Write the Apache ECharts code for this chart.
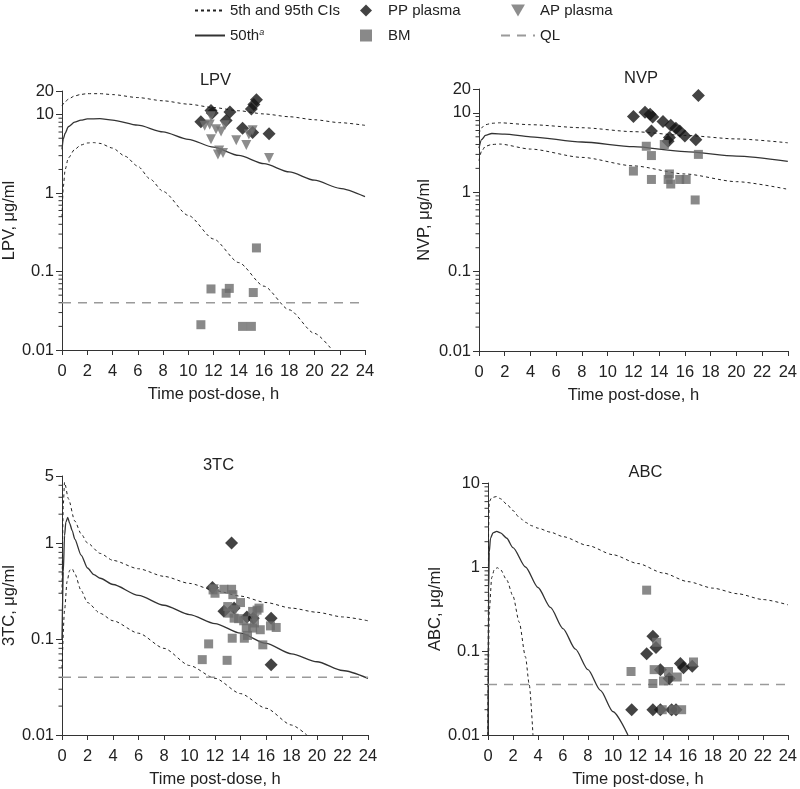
<!DOCTYPE html>
<html><head><meta charset="utf-8">
<script src="https://cdn.jsdelivr.net/npm/echarts@6/dist/echarts.min.js"></script>
<style>html,body{margin:0;padding:0;background:#fff}#c{width:800px;height:789px}</style>
</head><body><div id="c"></div>
<script>
// ---------- DATA ----------
const panelNames = ['LPV', 'NVP', '3TC', 'ABC'];
const yMax = [20, 20, 5, 10];
const yMin = 0.01;
const qlValue = 0.04;

// LPV
const lpvPP = [[11.0,8.1],[11.8,11.3],[11.9,10.5],[13.0,8.4],[13.3,10.8],[14.3,6.7],[15.0,11.8],[15.1,5.9],[15.2,13.5],[15.4,15.5],[16.4,5.7]];
const lpvAP = [[11.3,7.2],[11.7,7.5],[11.8,9.5],[11.8,4.85],[12.2,6.5],[12.6,6.1],[12.9,7.3],[12.35,3.1],[12.45,3.5],[12.75,3.25],[13.8,4.7],[14.6,4.1],[14.8,5.6],[15.1,6.3],[16.4,2.8]];
const lpvBM = [[11.0,0.021],[11.8,0.060],[13.0,0.053],[13.25,0.061],[14.3,0.020],[15.0,0.020],[15.15,0.054],[15.4,0.20]];
const lpvP50 = [[0,3.6],[0.1,4.9],[0.25,5.8],[0.5,7.0],[1,8.0],[1.5,8.5],[2,8.8],[3,8.9],[4,8.5],[6,7.33],[8,6.03],[10,4.84],[12,3.85],[14,3.02],[16,2.37],[18,1.86],[20,1.46],[22,1.15],[24,0.90]];
const lpvP95 = [[0,13],[0.25,14.5],[0.5,15.8],[1,17.3],[1.5,18.1],[2,18.5],[3,18.5],[4,18],[6,16.5],[8,15],[10,13.6],[12,12.3],[14,11.2],[16,10.2],[18,9.4],[20,8.6],[22,7.9],[24,7.3]];
const lpvP5 = [[0,0.5],[0.1,1.2],[0.25,2.0],[0.5,2.8],[1,3.6],[1.5,4.1],[2,4.35],[2.5,4.4],[3,4.3],[4,3.75],[5,2.95],[6,2.2],[7,1.5],[8,1.05],[10,0.52],[12,0.26],[14,0.13],[16,0.065],[18,0.0325],[20,0.0163],[21.4,0.01]];

// NVP
const nvpPP = [[12.0,9.0],[12.9,10.2],[13.3,9.6],[13.5,8.9],[13.4,5.9],[14.3,7.8],[14.9,7.0],[15.3,6.4],[15.6,5.9],[16.0,5.1],[16.85,4.6],[17.05,16.6],[14.8,4.9],[14.7,4.4]];
const nvpBM = [[13.0,3.8],[14.4,4.0],[13.4,2.9],[17.05,3.0],[12.0,1.85],[13.4,1.45],[14.7,1.45],[14.8,1.7],[14.9,1.27],[15.6,1.45],[16.1,1.45],[16.8,0.8]];
const nvpP50 = [[0,3.6],[0.2,4.6],[0.5,5.2],[1,5.5],[2,5.4],[4,5.0],[8,4.3],[12,3.75],[16,3.25],[20,2.85],[24,2.45]];
const nvpP95 = [[0,5.5],[0.2,6.5],[0.5,7.1],[1,7.4],[1.6,7.5],[4,7.1],[8,6.5],[12,5.8],[16,5.2],[20,4.7],[24,4.2]];
const nvpP5 = [[0,2.5],[0.2,3.3],[0.5,3.8],[1,4.0],[1.6,4.05],[4,3.5],[8,2.75],[12,2.15],[16,1.7],[20,1.36],[24,1.09]];

// 3TC
const tcPP = [[11.8,0.345],[12.7,0.195],[13.5,0.21],[13.3,1.0],[14.5,0.17],[15.0,0.165],[16.4,0.165],[16.4,0.054]];
const tcAP = [[11.9,0.33],[13.6,0.2],[15.1,0.16]];
const tcBM = [[11.85,0.325],[12.0,0.30],[12.7,0.33],[13.3,0.33],[13.4,0.29],[14.0,0.24],[13.0,0.218],[13.1,0.186],[13.5,0.165],[13.85,0.163],[14.25,0.155],[14.45,0.13],[14.95,0.13],[15.1,0.147],[14.95,0.194],[15.3,0.2],[15.45,0.21],[15.55,0.125],[16.35,0.137],[16.8,0.132],[13.35,0.102],[14.3,0.102],[14.55,0.109],[15.75,0.087],[11.5,0.089],[11.0,0.061],[12.95,0.06]];
const tcP50 = [[0,0.1],[0.1,0.5],[0.2,1.2],[0.3,1.65],[0.45,1.85],[0.6,1.6],[0.8,1.35],[1,1.1],[1.5,0.75],[2,0.55],[2.5,0.47],[3,0.43],[4,0.37],[6,0.285],[8,0.225],[10,0.18],[12,0.145],[14,0.115],[16,0.09],[18,0.07],[20,0.058],[22,0.047],[24,0.039]];
const tcP95 = [[0,0.3],[0.1,2.5],[0.2,4.3],[0.5,2.9],[1,1.7],[1.5,1.25],[2,1.0],[3,0.78],[4,0.66],[6,0.54],[8,0.45],[10,0.38],[12,0.32],[14,0.28],[16,0.24],[18,0.21],[20,0.19],[22,0.17],[24,0.155]];
const tcP5 = [[0,0.05],[0.2,0.2],[0.4,0.4],[0.6,0.52],[0.8,0.54],[1,0.48],[1.5,0.32],[2,0.24],[3,0.185],[4,0.155],[6,0.115],[8,0.08],[10,0.053],[12,0.039],[14,0.027],[16,0.019],[18,0.0127],[19.2,0.01]];

// ABC
const abcPP = [[11.5,0.02],[13.2,0.02],[13.8,0.02],[14.7,0.02],[15.05,0.02],[13.2,0.15],[12.7,0.093],[13.45,0.11],[13.8,0.06],[14.5,0.047],[15.4,0.071],[15.65,0.063],[16.35,0.066]];
const abcBM = [[12.7,0.53],[11.45,0.057],[13.3,0.06],[13.5,0.127],[13.2,0.041],[14.45,0.057],[14.05,0.044],[15.15,0.049],[16.45,0.074],[13.95,0.02],[14.85,0.02],[15.5,0.02]];
const abcP50 = [[0,0.01],[0.05,0.5],[0.1,1.5],[0.2,2.2],[0.4,2.55],[0.7,2.65],[1,2.55],[1.5,2.2],[2,1.7],[3,1.0],[4,0.57],[5,0.33],[6,0.185],[7,0.105],[8,0.06],[9,0.034],[10,0.019],[11.2,0.01]];
const abcP95 = [[0,0.01],[0.05,3],[0.1,6.0],[0.3,6.7],[0.7,6.9],[1,6.5],[1.5,5.6],[2,4.7],[2.5,3.9],[3,3.4],[3.5,3.1],[4,2.9],[5,2.6],[6,2.3],[8,1.8],[10,1.4],[12,1.1],[14,0.85],[16,0.67],[18,0.56],[20,0.48],[22,0.41],[24,0.355]];
const abcP5 = [[0,0.01],[0.1,0.3],[0.3,0.75],[0.5,0.93],[0.75,0.98],[1,0.93],[1.5,0.7],[2,0.45],[2.5,0.22],[3,0.085],[3.3,0.04],[3.6,0.01]];

// ---------- BUILD ----------
const FONT = 'Liberation Sans, Arial, Helvetica, sans-serif';
const FS = 16.5;
const TXT = '#222';
const AX = '#333';
const panels = [
  {pp: lpvPP, ap: lpvAP, bm: lpvBM, p50: lpvP50, p95: lpvP95, p5: lpvP5, ql: true},
  {pp: nvpPP, ap: [], bm: nvpBM, p50: nvpP50, p95: nvpP95, p5: nvpP5, ql: false},
  {pp: tcPP, ap: tcAP, bm: tcBM, p50: tcP50, p95: tcP95, p5: tcP5, ql: true},
  {pp: abcPP, ap: [], bm: abcBM, p50: abcP50, p95: abcP95, p5: abcP5, ql: true}
];
const gridBoxes = [
  {left: 56, top: 91, width: 309, height: 259},
  {left: 479, top: 89, width: 314, height: 262},
  {left: 59, top: 476, width: 309, height: 262},
  {left: 488, top: 483, width: 305, height: 256}
];
const nameGaps = [43, 46, 44, 43];

const grid = [], xAxis = [], yAxis = [], series = [], title = [];
panels.forEach((p, i) => {
  const g = gridBoxes[i];
  grid.push(Object.assign({containLabel: false}, g));
  title.push({
    text: panelNames[i], left: g.left + g.width / 2, top: g.top - 24, textAlign: 'center',
    textStyle: {fontSize: FS, fontWeight: 'normal', color: TXT, fontFamily: FONT}
  });
  xAxis.push({
    gridIndex: i, type: 'value', min: 0, max: 24, interval: 2,
    axisLine: {show: true, onZero: false, lineStyle: {color: AX, width: 1}},
    axisTick: {show: true, length: 5, lineStyle: {color: AX}},
    axisLabel: {fontSize: FS, color: TXT, fontFamily: FONT, margin: 13},
    splitLine: {show: false},
    name: 'Time post-dose, h', nameLocation: 'middle', nameGap: 36,
    nameTextStyle: {fontSize: FS, color: TXT, fontFamily: FONT}
  });
  yAxis.push({
    gridIndex: i, type: 'log', logBase: 10, min: yMin, max: yMax[i],
    axisLine: {show: true, onZero: false, lineStyle: {color: AX, width: 1}},
    axisTick: {show: true, length: 6, lineStyle: {color: AX}},
    axisLabel: {fontSize: FS, color: TXT, fontFamily: FONT, margin: 8},
    splitLine: {show: false},
    name: panelNames[i] + ', \u03bcg/ml', nameLocation: 'middle', nameGap: nameGaps[i],
    nameTextStyle: {fontSize: FS, color: TXT, fontFamily: FONT}
  });
  // minor log ticks (2..9 x 10^k) placed through the axis scale
  const minor = [];
  for (let k = -2; k <= 1; k++) for (let m = 2; m <= 9; m++) {
    const v = m * Math.pow(10, k);
    if (v > yMin && v < yMax[i]) minor.push([0, v]);
  }
  series.push({
    type: 'custom', xAxisIndex: i, yAxisIndex: i, data: minor, silent: true, clip: false,
    renderItem: (params, api) => {
      const c = api.coord([0, api.value(1)]);
      return {type: 'line', shape: {x1: c[0] - 3.5, y1: c[1], x2: c[0], y2: c[1]}, style: {stroke: AX, lineWidth: 1}};
    }
  });
  const lineCommon = {type: 'line', xAxisIndex: i, yAxisIndex: i, symbol: 'none', smooth: 0.25, smoothMonotone: 'x', silent: true, z: 3,
    itemStyle: {color: '#222', opacity: 0}};
  series.push(Object.assign({}, lineCommon, {name: '5th and 95th CIs', data: p.p95, lineStyle: {color: '#222', width: 1, type: [3, 3]}}));
  series.push(Object.assign({}, lineCommon, {name: '5th and 95th CIs', data: p.p5, lineStyle: {color: '#222', width: 1, type: [3, 3]}}));
  series.push(Object.assign({}, lineCommon, {name: '50th', data: p.p50, lineStyle: {color: '#333', width: 1.3}}));
  if (p.ql) {
    series.push(Object.assign({}, lineCommon, {name: 'QL', smooth: false,
      data: [[0, qlValue], [24, qlValue]], lineStyle: {color: '#9a9a9a', width: 1.6, type: [9, 7]}}));
  }
  series.push({type: 'scatter', name: 'PP plasma', xAxisIndex: i, yAxisIndex: i, data: p.pp,
    symbol: 'diamond', symbolSize: 13, itemStyle: {color: '#141414'}, z: 4});
  series.push({type: 'scatter', name: 'AP plasma', xAxisIndex: i, yAxisIndex: i, data: p.ap,
    symbol: 'triangle', symbolRotate: 180, symbolSize: 10, itemStyle: {color: '#707070'}, z: 5});
  series.push({type: 'scatter', name: 'BM', xAxisIndex: i, yAxisIndex: i, data: p.bm,
    symbol: 'rect', symbolSize: 9, itemStyle: {color: '#6b6b6b'}, z: 6});
});

const legendText = {fontSize: 15, color: TXT, fontFamily: FONT,
  rich: {sup: {fontSize: 9, fontStyle: 'italic', color: TXT, fontFamily: FONT, verticalAlign: 'top', lineHeight: 10}}};
const legendCommon = {orient: 'vertical', top: -2, itemHeight: 12, itemGap: 10, selectedMode: false, symbolKeepAspect: true,
  textStyle: legendText, formatter: n => n === '50th' ? '50th{sup|a}' : n};
const hideSym = {opacity: 0};
const legend = [
  Object.assign({}, legendCommon, {left: 189, itemWidth: 30,
    data: [{name: '5th and 95th CIs', itemStyle: hideSym}, {name: '50th', itemStyle: hideSym}]}),
  Object.assign({}, legendCommon, {left: 355, itemWidth: 34,
    data: [{name: 'PP plasma', icon: 'path://M5,0L10,5L5,10L0,5Z'}, {name: 'BM', icon: 'path://M0,0L10,0L10,10L0,10Z'}]}),
  Object.assign({}, legendCommon, {left: 495, itemWidth: 34,
    data: [{name: 'AP plasma', icon: 'path://M0,0L10,0L5,8.66Z'}, {name: 'QL', itemStyle: hideSym}]})
];

const chart = echarts.init(document.getElementById('c'), null, {renderer: 'canvas'});
chart.setOption({animation: false, backgroundColor: '#fff', title, legend, grid, xAxis, yAxis, series});
</script></body></html>
